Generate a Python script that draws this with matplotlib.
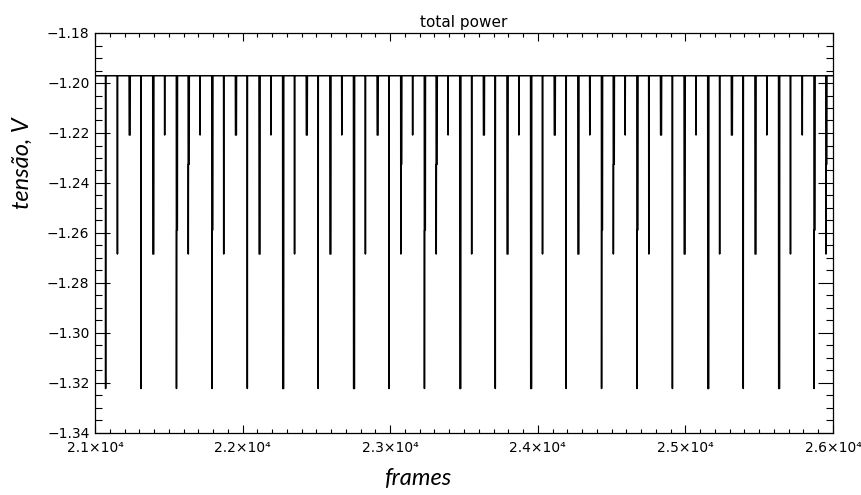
"""
Total power trace: detector voltage vs frame number, periodic calibration dips.
"""

import numpy as np
import matplotlib
matplotlib.use('Agg')
import matplotlib.pyplot as plt
from matplotlib.ticker import MultipleLocator, FixedLocator

# signal baseline (V)
baseline = -1.1971

# dip start frames (one dip every ~80 frames)
spike_frames = [
    21072, 21152, 21232, 21312, 21392, 21472, 21552, 21632, 21712, 21792,
    21872, 21952, 22032, 22112, 22192, 22272, 22352, 22432, 22512, 22592,
    22672, 22752, 22832, 22912, 22992, 23072, 23152, 23232, 23312, 23392,
    23472, 23552, 23632, 23712, 23792, 23872, 23952, 24032, 24112, 24192,
    24272, 24352, 24432, 24512, 24592, 24672, 24752, 24832, 24912, 24992,
    25072, 25152, 25232, 25312, 25392, 25472, 25552, 25632, 25712, 25792,
    25872, 25952,
]

# deepest value of each dip (V)
D, M, S = -1.3222, -1.2684, -1.2208
spike_depth = [
    D, M, S, D, M, S, D, M, S, D,
    M, S, D, M, S, D, M, S, D, M,
    S, D, M, S, D, M, S, D, M, S,
    D, M, S, D, M, S, D, M, S, D,
    M, S, D, M, S, D, M, S, D, M,
    S, D, M, S, D, M, S, D, M, S,
    D, M,
]

# level of the wide part of a dip (None = no shoulder)
spike_shoulder = [None] * 62
for k, v in [(6, -1.2588), (7, -1.2325), (9, -1.2588), (25, -1.2325),
             (27, -1.2588), (28, -1.2325), (42, -1.2588), (43, -1.2325),
             (45, -1.2588), (60, -1.2588), (61, -1.2325)]:
    spike_shoulder[k] = v

# 1 = wide dip (several frames), 0 = single frame
spike_wide = [
    0, 0, 1, 0, 1, 0, 0, 0, 0, 0,
    0, 1, 0, 1, 0, 1, 0, 1, 0, 1,
    0, 1, 0, 1, 0, 0, 0, 0, 0, 0,
    1, 0, 1, 0, 1, 0, 1, 0, 1, 0,
    1, 0, 0, 0, 0, 0, 0, 1, 0, 1,
    0, 1, 0, 1, 0, 1, 0, 1, 0, 0,
    0, 0,
]

x_ticks = [21000, 22000, 23000, 24000, 25000, 26000]
x_tick_labels = ['2.1\u00d710\u2074', '2.2\u00d710\u2074', '2.3\u00d710\u2074',
                 '2.4\u00d710\u2074', '2.5\u00d710\u2074', '2.6\u00d710\u2074']
y_ticks = [-1.34, -1.32, -1.30, -1.28, -1.26, -1.24, -1.22, -1.20, -1.18]


def build_trace():
    frames = [21000]
    volts = [baseline]
    for f, d, sh, w in zip(spike_frames, spike_depth, spike_shoulder, spike_wide):
        frames += [f - 1, f]
        volts += [baseline, d]
        if sh is not None:
            frames += [f + 1, f + 6]
            volts += [sh, sh]
            end = f + 7
        elif w:
            frames += [f + 6]
            volts += [d]
            end = f + 7
        else:
            end = f + 1
        frames.append(end)
        volts.append(baseline)
    frames.append(26000)
    volts.append(baseline)
    return np.array(frames), np.array(volts)


frames, volts = build_trace()

fig = plt.figure(figsize=(8.61, 4.95), dpi=100)
ax = fig.add_axes([95 / 861, 1 - 433 / 495, 738 / 861, 400 / 495])

ax.plot(frames, volts, color='black', linewidth=1.1)

ax.set_xlim(21000, 26000)
ax.set_ylim(-1.34, -1.18)

ax.xaxis.set_major_locator(FixedLocator(x_ticks))
ax.set_xticklabels(x_tick_labels)
ax.xaxis.set_minor_locator(MultipleLocator(100))
ax.yaxis.set_major_locator(FixedLocator(y_ticks))
ax.set_yticklabels(['\u2212%.2f' % abs(v) for v in y_ticks])
ax.yaxis.set_minor_locator(MultipleLocator(0.005))

ax.tick_params(axis='x', which='major', direction='in', length=5.8, width=0.8,
               top=True, bottom=True, pad=6, labelsize=10)
ax.tick_params(axis='x', which='minor', direction='in', length=2.9, width=0.8,
               top=True, bottom=True)
ax.tick_params(axis='y', which='major', direction='in', length=10.8, width=0.8,
               left=True, right=True, pad=4, labelsize=10)
ax.tick_params(axis='y', which='minor', direction='in', length=5.3, width=0.8,
               left=True, right=True)
for s in ax.spines.values():
    s.set_linewidth(0.9)

ax.set_title('total power', fontsize=11, pad=4)

fig.text(418 / 861, 1 - 479 / 495, 'frames', fontsize=17, style='italic',
         family='Lato', ha='center', va='center')
fig.text(22 / 861, 1 - 163 / 495, 'tens\u00e3o, V', fontsize=17, style='italic',
         family='Lato', ha='center', va='center', rotation=90)

plt.savefig('out.png', dpi=100)
